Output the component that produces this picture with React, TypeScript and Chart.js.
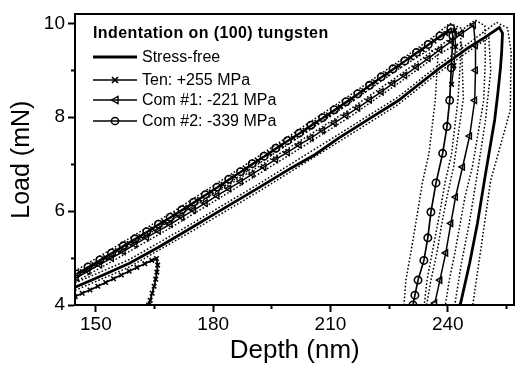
import React, { useEffect, useRef } from 'react';
import { Chart, registerables } from 'chart.js';

Chart.register(...registerables);

// ---- axis ranges & ticks ----
const depthRange = [144.66, 257.05];
const loadRange = [4, 10.19];
const xMajorTicks = [150, 180, 210, 240];
const xMinorTicks = [165, 195, 225, 255];
const yMajorTicks = [4, 6, 8, 10];
const yMinorTicks = [5, 7, 9];

const xTitle = 'Depth (nm)';
const yTitle = 'Load (mN)';
const legendTitle = 'Indentation on (100) tungsten';
const seriesNames = ['Stress-free', 'Ten: +255 MPa', 'Com #1: -221 MPa', 'Com #2: -339 MPa'];

// ---- series: [depth (nm), load (mN)] ----
const stressFree: [number, number][] = [
  [144.7, 4.38], [150, 4.57], [158.6, 4.89], [166, 5.23], [173.9, 5.62], [182, 6.02],
  [191.7, 6.5], [200, 6.92], [206, 7.2], [212, 7.55], [220, 7.97], [227.3, 8.35],
  [232, 8.66], [237.5, 9.02], [245.1, 9.47], [249.5, 9.7], [253.2, 9.91],
  [254.0, 9.79], [253.8, 9.4], [253.5, 9.06], [252.8, 8.5], [252.0, 7.94], [250.7, 7.3],
  [249.4, 6.66], [247.6, 5.74], [245.6, 4.89], [243.3, 4.04], [243.2, 4.0],
];

const tenMain: [number, number][] = [
  [146.5, 4.71], [149.5, 4.86], [152.5, 5.01], [155.5, 5.16], [158.5, 5.31], [161.5, 5.46],
  [164.5, 5.62], [167.5, 5.77], [170.5, 5.93], [173.5, 6.08], [176.5, 6.25], [179.5, 6.41],
  [182.5, 6.57], [185.5, 6.74], [188.5, 6.9], [191.5, 7.07], [194.5, 7.23], [197.5, 7.4],
  [200.5, 7.56], [203.5, 7.72], [206.5, 7.89], [209.5, 8.05], [212.5, 8.22], [215.5, 8.39],
  [218.5, 8.57], [221.5, 8.75], [224.5, 8.92], [227.5, 9.09], [230.5, 9.27], [233.5, 9.44],
  [236.5, 9.62], [239.5, 9.78], [241.8, 9.85],
  [242.0, 9.5], [241.6, 9.1], [241.0, 8.7],
];

const tenSmall: [number, number][] = [
  [144.7, 4.18], [146.5, 4.25], [148.5, 4.32], [150.5, 4.4], [152.5, 4.48], [154.5, 4.56],
  [156.5, 4.64], [158.5, 4.72], [160.5, 4.8], [162.5, 4.88], [164.3, 4.95], [165.5, 4.99],
  [165.8, 4.85], [165.6, 4.7], [165.3, 4.55], [164.9, 4.4], [164.4, 4.25], [163.9, 4.1], [163.5, 4.0],
];

const com1: [number, number][] = [
  [145, 4.58], [148, 4.72], [151, 4.86], [154, 5.0], [157, 5.14], [160, 5.29], [163, 5.44],
  [166, 5.58], [169, 5.72], [172, 5.87], [175, 6.02], [178, 6.17], [181, 6.33], [184, 6.48],
  [187, 6.63], [190, 6.79], [193, 6.94], [196, 7.1], [199, 7.25], [202, 7.41], [205, 7.56],
  [208, 7.72], [211, 7.88], [214, 8.04], [217, 8.2], [220, 8.37], [223, 8.54], [226, 8.72],
  [229, 8.89], [232, 9.07], [235, 9.25], [238, 9.44], [241, 9.62], [243.5, 9.78], [246.6, 9.96],
  [247.1, 9.53], [247.1, 9.0], [246.9, 8.36], [245.6, 7.6], [243.8, 6.94], [242.0, 6.3],
  [240.8, 5.74], [239.5, 5.11], [238.0, 4.53], [236.7, 4.04],
];

const com2: [number, number][] = [
  [145, 4.66], [148, 4.81], [151, 4.96], [154, 5.11], [157, 5.26], [160, 5.41], [163, 5.56],
  [166, 5.72], [169, 5.87], [172, 6.03], [175, 6.19], [178, 6.35], [181, 6.51], [184, 6.68],
  [187, 6.84], [190, 7.01], [193, 7.17], [196, 7.34], [199, 7.5], [202, 7.66], [205, 7.83],
  [208, 7.99], [211, 8.16], [214, 8.33], [217, 8.5], [220, 8.68], [223, 8.86], [226, 9.03],
  [229, 9.2], [232, 9.38], [235, 9.55], [238, 9.73], [240.8, 9.89],
  [241.3, 9.74], [240.9, 9.05], [240.5, 8.36], [239.8, 7.8], [238.7, 7.23], [237.0, 6.6],
  [235.7, 5.98], [234.9, 5.43], [233.9, 4.95], [232.4, 4.53], [231.6, 4.21], [231.1, 4.0],
];

// dotted scatter envelopes (outer = above loading / right of unloading)
const sfOuter: [number, number][] = [
  [143, 4.41], [158.6, 4.97], [173.9, 5.7], [191.7, 6.58], [212, 7.63], [227.3, 8.43],
  [237.5, 9.1], [245.1, 9.56], [252.5, 10.02], [255.3, 9.9], [256.2, 9.4], [256.0, 8.15],
  [253.5, 7.4], [251.0, 6.66], [249.0, 5.5], [246.4, 4.0],
];
const sfInner: [number, number][] = [
  [143, 4.25], [158.6, 4.81], [173.9, 5.54], [191.7, 6.42], [212, 7.47], [227.3, 8.27],
  [237.5, 8.94], [245.1, 9.39], [250.5, 9.7], [251.0, 9.0], [249.6, 7.9], [247.3, 6.66],
  [245.5, 5.74], [243.5, 4.89], [241.8, 4.0],
];
const com1Outer: [number, number][] = [
  [143, 4.57], [155, 5.13], [170, 5.85], [185, 6.61], [200, 7.38], [215, 8.17], [228, 8.92],
  [238, 9.52], [244, 9.88], [247, 10.07], [249.5, 9.95], [249.6, 9.2], [249.2, 8.36],
  [246.3, 6.94], [244.4, 6.3], [243.2, 5.74], [241.8, 5.1], [240.4, 4.53], [239.4, 4.0],
];
const com1Inner: [number, number][] = [
  [143, 4.41], [155, 4.97], [170, 5.69], [185, 6.45], [200, 7.22], [215, 8.01], [228, 8.76],
  [238, 9.36], [243.5, 9.6], [244.0, 8.4], [241.5, 6.94], [239.8, 6.3], [238.5, 5.74],
  [237.2, 5.1], [235.7, 4.53], [234.6, 4.0],
];
const com2Outer: [number, number][] = [
  [143, 4.64], [155, 5.24], [170, 6.0], [185, 6.81], [200, 7.63], [215, 8.47], [228, 9.22],
  [236, 9.69], [240.5, 10.0], [243.3, 9.9], [243.4, 9.4], [242.6, 8.36], [241.0, 7.23],
  [239.3, 6.6], [238.0, 5.98], [236.4, 5.28], [234.7, 4.53], [234.0, 4.0],
];
const com2Inner: [number, number][] = [
  [143, 4.48], [155, 5.08], [170, 5.84], [185, 6.65], [200, 7.47], [215, 8.31], [228, 9.06],
  [235.5, 9.45], [237.5, 9.3], [236.8, 8.36], [235.2, 7.23], [233.5, 6.6], [232.3, 5.98],
  [230.9, 5.28], [229.3, 4.53], [228.8, 4.0],
];

const FONT = "'Liberation Sans', Arial, Helvetica, sans-serif";
const toXY = (arr: [number, number][]) => arr.map(([x, y]) => ({ x, y }));

function dotted(arr: [number, number][]) {
  return {
    data: toXY(arr),
    showLine: true,
    borderColor: '#000',
    borderWidth: 1.5,
    borderDash: [1.6, 2.0],
    pointRadius: 0,
    tension: 0,
  };
}

export default function App() {
  const canvasRef = useRef<HTMLCanvasElement | null>(null);

  useEffect(() => {
    if (!canvasRef.current) return;
    const tickSetter = (vals: number[]) => (scale: any) => {
      scale.ticks = vals.map((v) => ({ value: v }));
    };
    const chart = new Chart(canvasRef.current, {
      type: 'scatter',
      data: {
        datasets: [
          {
            data: toXY(com2), showLine: true, borderColor: '#000', borderWidth: 1.7, tension: 0,
            pointStyle: 'circle', pointRadius: 3.7, pointBorderWidth: 1.6,
            pointBorderColor: '#000', pointBackgroundColor: 'rgba(0,0,0,0)',
          },
          {
            data: toXY(com1), showLine: true, borderColor: '#000', borderWidth: 1.5, tension: 0,
            pointStyle: 'triangle', pointRotation: -90, pointRadius: 3.6, pointBorderWidth: 1.4,
            pointBorderColor: '#000', pointBackgroundColor: 'rgba(0,0,0,0)',
          },
          {
            data: toXY(tenMain), showLine: true, borderColor: '#000', borderWidth: 1.3, tension: 0,
            pointStyle: 'crossRot', pointRadius: 3.2, pointBorderWidth: 1.6, pointBorderColor: '#000',
          },
          {
            data: toXY(tenSmall), showLine: true, borderColor: '#000', borderWidth: 1.8, tension: 0,
            pointStyle: 'crossRot', pointRadius: 3.2, pointBorderWidth: 1.6, pointBorderColor: '#000',
          },
          {
            data: toXY(stressFree), showLine: true, borderColor: '#000', borderWidth: 2.8, tension: 0,
            pointRadius: 0,
          },
          dotted(sfOuter), dotted(sfInner), dotted(com1Outer), dotted(com1Inner),
          dotted(com2Outer), dotted(com2Inner),
        ] as any,
      },
      options: {
        responsive: false,
        animation: false,
        events: [],
        layout: { padding: { top: 14, right: 3, left: 0, bottom: 0 } },
        plugins: { legend: { display: false }, tooltip: { enabled: false } },
        scales: {
          x: {
            type: 'linear', position: 'bottom', weight: 1,
            min: depthRange[0], max: depthRange[1],
            afterBuildTicks: tickSetter(xMajorTicks),
            afterFit: (s: any) => { s.height = 63; },
            ticks: { color: '#000', font: { size: 19, family: FONT }, padding: 1, maxRotation: 0 },
            grid: { drawOnChartArea: false, tickLength: 7, tickWidth: 2, tickColor: '#000' },
            border: { display: true, color: '#000', width: 2 },
            title: { display: true, text: xTitle, color: '#000', font: { size: 26, family: FONT }, padding: { top: 0, bottom: 2 } },
          },
          xMinor: {
            type: 'linear', position: 'bottom', weight: 0,
            min: depthRange[0], max: depthRange[1],
            afterBuildTicks: tickSetter(xMinorTicks),
            afterFit: (s: any) => { s.height = 0; },
            ticks: { display: false },
            grid: { drawOnChartArea: false, tickLength: 4, tickWidth: 2, tickColor: '#000' },
            border: { display: false },
          },
          y: {
            type: 'linear', position: 'left', weight: 1,
            min: loadRange[0], max: loadRange[1],
            afterBuildTicks: tickSetter(yMajorTicks),
            afterFit: (s: any) => { s.width = 75; },
            ticks: { color: '#000', font: { size: 19, family: FONT }, padding: 3 },
            grid: { drawOnChartArea: false, tickLength: 7, tickWidth: 2, tickColor: '#000' },
            border: { display: true, color: '#000', width: 2 },
            title: { display: true, text: yTitle, color: '#000', font: { size: 25, family: FONT }, padding: { top: 7, bottom: 0 } },
          },
          yMinor: {
            type: 'linear', position: 'left', weight: 0,
            min: loadRange[0], max: loadRange[1],
            afterBuildTicks: tickSetter(yMinorTicks),
            afterFit: (s: any) => { s.width = 0; },
            ticks: { display: false },
            grid: { drawOnChartArea: false, tickLength: 4, tickWidth: 2, tickColor: '#000' },
            border: { display: false },
          },
          xTop: {
            type: 'linear', position: 'top',
            min: depthRange[0], max: depthRange[1],
            afterFit: (s: any) => { s.height = 0; },
            ticks: { display: false },
            grid: { display: false },
            border: { display: true, color: '#000', width: 2 },
          },
          yRight: {
            type: 'linear', position: 'right',
            min: loadRange[0], max: loadRange[1],
            afterFit: (s: any) => { s.width = 0; },
            ticks: { display: false },
            grid: { display: false },
            border: { display: true, color: '#000', width: 2 },
          },
        },
      } as any,
    });
    return () => chart.destroy();
  }, []);

  const rowStyle = (top: number): React.CSSProperties => ({
    position: 'absolute', left: 92, top, height: 18, display: 'flex', alignItems: 'center',
    fontFamily: FONT, fontSize: 16, color: '#000', whiteSpace: 'nowrap', lineHeight: '18px',
  });
  const sample = (kind: number) => (
    <svg width={50} height={14} style={{ display: 'block' }}>
      <line x1={1} y1={7} x2={45} y2={7} stroke="#000" strokeWidth={kind === 0 ? 2.8 : 1.5} />
      {kind === 1 && (
        <g stroke="#000" strokeWidth={1.7}>
          <line x1={20} y1={4} x2={26} y2={10} />
          <line x1={20} y1={10} x2={26} y2={4} />
        </g>
      )}
      {kind === 2 && <polygon points="19.5,7 26,3.4 26,10.6" fill="none" stroke="#000" strokeWidth={1.4} />}
      {kind === 3 && <circle cx={23} cy={7} r={3.6} fill="none" stroke="#000" strokeWidth={1.5} />}
    </svg>
  );
  const rowTops = [48, 70.5, 91, 112];

  return (
    <div style={{ position: 'fixed', left: 0, top: 0, width: 520, height: 368, background: '#fff' }}>
      <canvas ref={canvasRef} width={520} height={368} style={{ position: 'absolute', left: 0, top: 0, width: 520, height: 368 }} />
      <div style={{ position: 'absolute', left: 93, top: 24, fontFamily: FONT, fontSize: 16, fontWeight: 'bold', lineHeight: '18px', letterSpacing: '0.4px', color: '#000', whiteSpace: 'nowrap' }}>
        {legendTitle}
      </div>
      {seriesNames.map((name, i) => (
        <div key={name} style={rowStyle(rowTops[i])}>
          {sample(i)}
          <span>{name}</span>
        </div>
      ))}
    </div>
  );
}
